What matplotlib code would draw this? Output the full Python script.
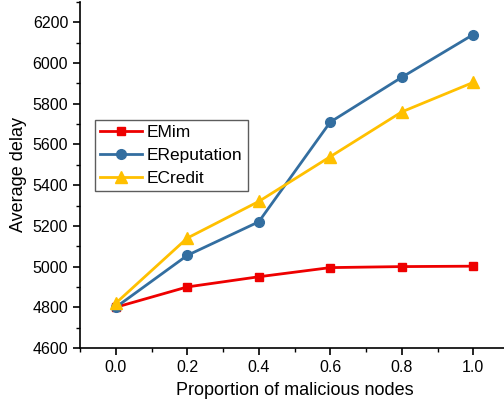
import matplotlib
matplotlib.use("Agg")
import matplotlib.pyplot as plt
from matplotlib.ticker import MultipleLocator

plt.rcParams['font.family'] = ['Liberation Sans', 'DejaVu Sans']

x = [0.0, 0.2, 0.4, 0.6, 0.8, 1.0]
emim = [4800, 4900, 4950, 4995, 5000, 5002]
erep = [4800, 5055, 5220, 5710, 5930, 6140]
ecredit = [4820, 5140, 5320, 5540, 5760, 5905]

fig = plt.figure(figsize=(5.04, 4.07), dpi=100)
ax = fig.add_axes([80/504, 1-348/407, 429/504, 346/407])

ax.plot(x, emim, color='#ee0000', marker='s', markersize=6, lw=2, label='EMim')
ax.plot(x, erep, color='#336ea0', marker='o', markersize=7, lw=2, label='EReputation')
ax.plot(x, ecredit, color='#ffc000', marker='^', markersize=8, lw=2, label='ECredit')

ax.set_xlim(-0.1, 1.1)
ax.set_ylim(4600, 6300)
ax.xaxis.set_major_locator(MultipleLocator(0.2))
ax.xaxis.set_minor_locator(MultipleLocator(0.1))
ax.yaxis.set_major_locator(MultipleLocator(200))
ax.yaxis.set_minor_locator(MultipleLocator(100))
ax.set_xticks(x)
ax.set_xticklabels(['0.0', '0.2', '0.4', '0.6', '0.8', '1.0'])
for s in ['top', 'right']:
    ax.spines[s].set_visible(False)
for s in ['left', 'bottom']:
    ax.spines[s].set_linewidth(1.2)
ax.tick_params(which='major', direction='out', length=5, width=1.2, labelsize=11.5, colors='black')
ax.tick_params(which='minor', direction='out', length=3, width=1.0)

ax.set_xlabel('Proportion of malicious nodes', fontsize=13, labelpad=5)
ax.set_ylabel('Average delay', fontsize=13, labelpad=4)

leg = ax.legend(loc='upper left', bbox_to_anchor=(15/429, 1-(120-2)/346), fontsize=12.5,
                frameon=True, fancybox=False, edgecolor='#333333', borderpad=0.3,
                labelspacing=0.45, handlelength=2.4, handletextpad=0.3, borderaxespad=0)
leg.get_frame().set_linewidth(1.0)

fig.savefig('out.png', dpi=100)
